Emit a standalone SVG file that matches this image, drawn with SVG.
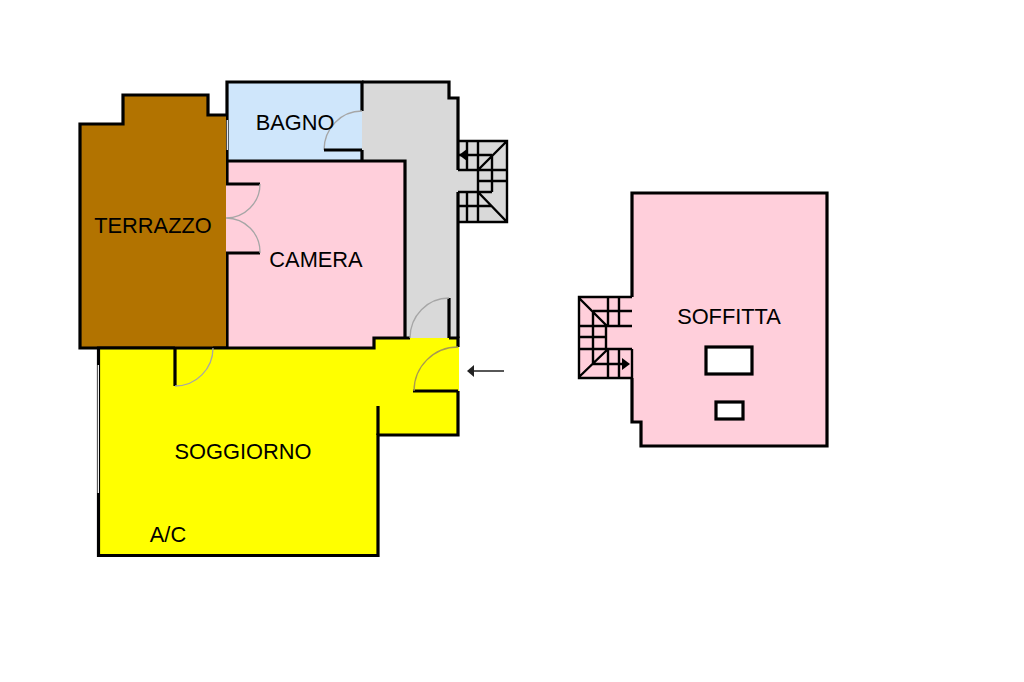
<svg xmlns="http://www.w3.org/2000/svg" width="1024" height="682" viewBox="0 0 1024 682">
<style>
.w{stroke:#000;stroke-width:3.2;fill:none;stroke-linejoin:miter}
.s{stroke:#000;stroke-width:2.4;fill:none}
.d{stroke:#a6a6a6;stroke-width:1.3;fill:none}
.o{fill:#fff;stroke:#000;stroke-width:3.2}
text{font-family:"Liberation Sans",Arial,sans-serif;font-size:21.8px;fill:#000;text-anchor:middle}
</style>
<rect width="1024" height="682" fill="#fff"/>
<g id="corridoio">
<path d="M362 82H449V98H458V141H507V222H458V338H362Z" fill="#d9d9d9"/>
<path class="w" d="M362 82H449V98H458V170M458 192V338"/>
</g>
<g id="bagno">
<rect x="227" y="82" width="135" height="79" fill="#cfe6fb"/>
<path class="w" d="M227 161V82H362V111M362 150V161"/>
<path d="M227.300 120V150" stroke="#fff" stroke-width="1.200" fill="none"/>
<path class="d" d="M362 111A38 39 0 0 0 324 150"/>
<path class="w" d="M324 150H362"/>
<text x="295" y="129.500">BAGNO</text>
</g>
<g id="camera">
<rect x="226" y="161" width="179" height="187" fill="#ffcfdb"/>
<path class="w" d="M227 161H405V338M227 161V184M227 253V348"/>
<path class="w" d="M226 184H260M226 253H260"/>
<path class="d" d="M260 184A34 34 0 0 1 226 218M260 253A34 34 0 0 0 226 218"/>
<text x="316" y="266.500">CAMERA</text>
</g>
<g id="terrazzo">
<path d="M80 124H123V95H208V115H226V348H80Z" fill="#b27300"/>
<path class="w" d="M226 115H208V95H123V124H80V348H175M213 348H227"/>
<text x="153" y="232.500">TERRAZZO</text>
</g>
<g id="soggiorno">
<path d="M99 349H374V338H458V347H459V391H458V435H378V555H99Z" fill="#ff0"/>
<path class="w" d="M175 348H374V338H410M449 338H458V347M458 391V435H378V555.500H98.500V348H175"/>
<path d="M98.300 365V493" stroke="#fff" stroke-width="1.300" fill="none"/>
<path class="w" d="M175 348V386M378 406V435M413 391H458"/>
<path class="d" d="M175 386A38 38 0 0 0 213 348"/>
<path class="d" style="stroke:#a89a50" d="M458 347A44 44 0 0 0 414 391"/>
<text x="243" y="458.500">SOGGIORNO</text>
<text x="168" y="541.500">A/C</text>
</g>
<g id="porta-corridoio">
<path class="w" d="M449 298V338"/>
<path class="d" d="M449 298A39 40 0 0 0 410 338"/>
</g>
<g id="scala-1">
<path class="s" d="M458 141H507V222H458M458 170H507M478 181H507M458 192H492M458 206H492M458 155H492M467 141V170M467 192V222M478 141V222M492 155V192M507 141L478 170M478 192L507 222"/>
<path d="M467 149V161L459 155Z" fill="#000"/>
</g>
<g id="soffitta">
<path d="M632 193H827V446H641V422H632V378H579V297H632Z" fill="#ffcfdb"/>
<path class="w" d="M632 297V193H827V446H641V422H632V378"/>
<rect class="o" x="706" y="347" width="46" height="27"/>
<rect class="o" x="716" y="402" width="27" height="17"/>
<text x="729" y="323.500">SOFFITTA</text>
</g>
<g id="scala-2">
<path class="s" d="M632 297H579V378H632M579 326H632M579 337H606M579 349H632M593 311H632M608 297V326M619 297V326M608 349V378M619 349V378M632 349V378M593 311V364M606 326V349M579 298L607 326M607 350L579 377M593 364H622"/>
<path d="M622 358L630 364L622 370Z" fill="#000"/>
</g>
<g id="connettori">
<path d="M504 371H473" stroke="#444" stroke-width="1.800" fill="none"/>
<path d="M474 365V377L467 371Z" fill="#222"/>
</g>
</svg>
